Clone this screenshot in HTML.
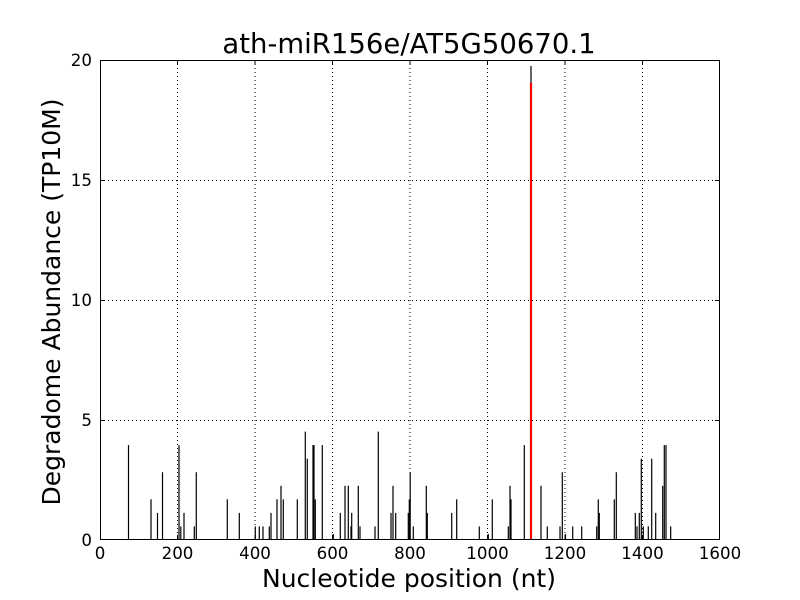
<!DOCTYPE html>
<html><head><meta charset="utf-8"><style>
html,body{margin:0;padding:0;background:#fff;}
svg{display:block;}
text{font-family:"DejaVu Sans","Liberation Sans",sans-serif;fill:#000;}
</style></head><body>
<svg width="800" height="600" viewBox="0 0 800 600" xmlns="http://www.w3.org/2000/svg">
<rect width="800" height="600" fill="#fff"/>
<g stroke="#000" stroke-width="1" stroke-dasharray="1,3" fill="none">
<line x1="177.5" y1="60" x2="177.5" y2="540"/>
<line x1="255" y1="60" x2="255" y2="540"/>
<line x1="332.5" y1="60" x2="332.5" y2="540"/>
<line x1="410" y1="60" x2="410" y2="540"/>
<line x1="487.5" y1="60" x2="487.5" y2="540"/>
<line x1="565" y1="60" x2="565" y2="540"/>
<line x1="642.5" y1="60" x2="642.5" y2="540"/>
<line x1="100" y1="420.5" x2="720" y2="420.5"/>
<line x1="100" y1="300.5" x2="720" y2="300.5"/>
<line x1="100" y1="180.5" x2="720" y2="180.5"/>
</g>
<g stroke="#000" stroke-width="1.2" fill="none">
<path d="M128.5 540V445.1"/>
<path d="M151 540V499.3"/>
<path d="M157.5 540V512.9"/>
<path d="M162.5 540V472.2"/>
<path d="M179 540V445.1"/>
<path d="M180.8 540V526.4"/>
<path d="M184 540V512.9"/>
<path d="M194.3 540V526.4"/>
<path d="M196.3 540V472.2"/>
<path d="M227.3 540V499.3"/>
<path d="M239.3 540V512.9"/>
<path d="M255.3 540V526.4"/>
<path d="M259.3 540V526.4"/>
<path d="M263 540V526.4"/>
<path d="M269.3 540V526.4"/>
<path d="M271 540V512.9"/>
<path d="M277 540V499.3"/>
<path d="M281 540V485.8"/>
<path d="M283.3 540V499.3"/>
<path d="M297.3 540V499.3"/>
<path d="M305.3 540V431.6"/>
<path d="M307.3 540V458.7"/>
<path d="M313 540V445.1"/>
<path d="M314 540V445.1"/>
<path d="M315.3 540V499.3"/>
<path d="M322.3 540V445.1"/>
<path d="M333.3 540V534"/>
<path d="M340.3 540V512.9"/>
<path d="M345 540V485.8"/>
<path d="M348.3 540V485.8"/>
<path d="M351 540V526.4"/>
<path d="M351.7 540V512.9"/>
<path d="M358.3 540V485.8"/>
<path d="M360 540V526.4"/>
<path d="M375 540V526.4"/>
<path d="M378.3 540V431.6"/>
<path d="M391 540V512.9"/>
<path d="M393 540V485.8"/>
<path d="M395.7 540V512.9"/>
<path d="M408.3 540V512.9"/>
<path d="M409.3 540V499.3"/>
<path d="M410.2 540V472.2"/>
<path d="M413.3 540V526.4"/>
<path d="M426.3 540V485.8"/>
<path d="M427.3 540V512.9"/>
<path d="M451.7 540V512.9"/>
<path d="M456.7 540V499.3"/>
<path d="M479.3 540V526.4"/>
<path d="M488.3 540V534"/>
<path d="M492.3 540V499.3"/>
<path d="M508.3 540V526.4"/>
<path d="M510 540V485.8"/>
<path d="M511 540V499.3"/>
<path d="M524.3 540V445.1"/>
<path d="M531 540V66"/>
<path d="M541 540V485.8"/>
<path d="M547.3 540V526.4"/>
<path d="M560 540V526.4"/>
<path d="M562.3 540V472.2"/>
<path d="M565.5 540V534"/>
<path d="M572.7 540V526.4"/>
<path d="M581.7 540V526.4"/>
<path d="M596.7 540V526.4"/>
<path d="M598.3 540V499.3"/>
<path d="M599.3 540V512.9"/>
<path d="M614.3 540V499.3"/>
<path d="M616.3 540V472.2"/>
<path d="M635.3 540V512.9"/>
<path d="M637 540V526.4"/>
<path d="M639.3 540V512.9"/>
<path d="M641.3 540V458.7"/>
<path d="M643.3 540V526.4"/>
<path d="M648.3 540V526.4"/>
<path d="M651.7 540V458.7"/>
<path d="M655.7 540V512.9"/>
<path d="M662.7 540V485.8"/>
<path d="M664.3 540V445.1"/>
<path d="M666 540V445.1"/>
<path d="M670.7 540V526.4"/>
</g>
<path d="M531 540V83" stroke="#ff0000" stroke-width="2.2" fill="none"/>
<rect x="100.5" y="60.5" width="619" height="479" fill="none" stroke="#000" stroke-width="1"/>
<g stroke="#000" stroke-width="1" fill="none">
<path d="M177.5 540v-5M255 540v-5M332.5 540v-5M410 540v-5M487.5 540v-5M565 540v-5M642.5 540v-5"/>
<path d="M177.5 60v5M255 60v5M332.5 60v5M410 60v5M487.5 60v5M565 60v5M642.5 60v5"/>
<path d="M100 420.5h5M100 300.5h5M100 180.5h5M715 420.5h5M715 300.5h5M715 180.5h5"/>
</g>
<g font-size="16.67" text-anchor="middle">
<text x="100" y="559">0</text>
<text x="177.5" y="559">200</text>
<text x="255" y="559">400</text>
<text x="332.5" y="559">600</text>
<text x="410" y="559">800</text>
<text x="487.5" y="559">1000</text>
<text x="565" y="559">1200</text>
<text x="642.5" y="559">1400</text>
<text x="720" y="559">1600</text>
</g>
<g font-size="16.67" text-anchor="end">
<text x="92" y="546">0</text>
<text x="92" y="426">5</text>
<text x="92" y="306">10</text>
<text x="92" y="186">15</text>
<text x="92" y="66">20</text>
</g>
<text x="409" y="53" font-size="27.5" text-anchor="middle">ath-miR156e/AT5G50670.1</text>
<text x="409" y="587" font-size="25" text-anchor="middle">Nucleotide position (nt)</text>
<text transform="translate(60,302) rotate(-90)" font-size="25" text-anchor="middle">Degradome Abundance (TP10M)</text>
</svg>
</body></html>
